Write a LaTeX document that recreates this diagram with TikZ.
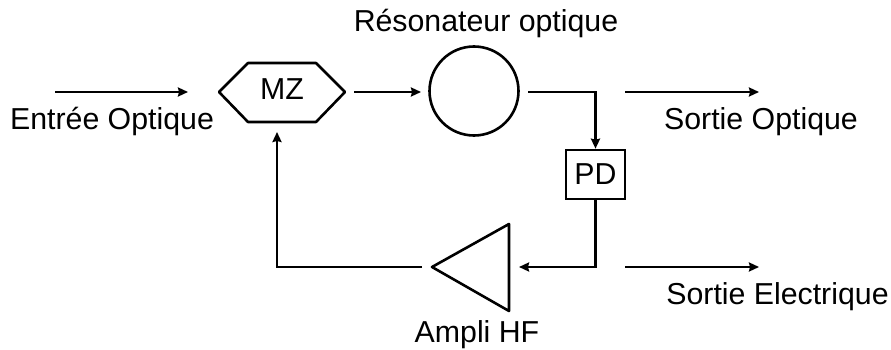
\documentclass[tikz,border=0pt]{standalone}
\usepackage{fontspec}
\setmainfont{Liberation Sans}
\usetikzlibrary{shapes.geometric,arrows.meta,positioning,calc}
\tikzset{
  lbl/.style={font=\fontsize{30.3}{30.3}\selectfont,inner sep=0pt,anchor=base},
  tedge/.style={-{Stealth[length=10pt,width=9pt,inset=1pt]},line width=2.6pt},
  tline/.style={line width=2.6pt,line join=round},
  tblock/.style={draw,line width=2.6pt,inner sep=0pt},
}
\begin{document}
\begin{tikzpicture}[x=1pt,y=-1pt]
  \useasboundingbox (0,0) rectangle (891,350);
  % blocks
  \draw[tline] (219,92) -- (248,63) -- (316,63) -- (345,92) -- (316,122) -- (248,122) -- cycle;
  \node[lbl,anchor=center] (MZ) at (282,89) {MZ};
  \node[tblock,circle,minimum size=89pt] (res) at (474,91) {};
  \node[tblock,rectangle,minimum width=59pt,minimum height=49pt,font=\fontsize{30.3}{30.3}\selectfont] (PD) at (595.5,174.5) {PD};
  \draw[tline] (509,224) -- (432,267) -- (509,311) -- cycle;
  % free ends
  \coordinate (inA) at (55,92);
  \coordinate (inB) at (188,92);
  \coordinate (mzOut) at (354,92);
  \coordinate (resIn) at (421,92);
  \coordinate (resOut) at (528,92);
  \coordinate (pdTop) at (PD.north |- resOut);
  \coordinate (pdBot) at (PD.south |- 0,267);
  \coordinate (ampIn) at (519,267);
  \coordinate (ampOut) at (422,267);
  \coordinate (fbk) at (277,267);
  \coordinate (mzIn) at (277,132);
  \coordinate (optA) at (625,92);
  \coordinate (optB) at (759,92);
  \coordinate (elecA) at (625,267);
  \coordinate (elecB) at (759,267);
  % connectors
  \draw[tedge] (inA) -- (inB);
  \draw[tedge] (mzOut) -- (resIn);
  \draw[tedge] (resOut) -- (pdTop) -- (PD.north);
  \draw[tedge] (PD.south) -- (pdBot) -- (ampIn);
  \draw[tedge] (ampOut) -- (fbk) -- (mzIn);
  \draw[tedge] (optA) -- (optB);
  \draw[tedge] (elecA) -- (elecB);
  % labels
  \node[lbl] (entree) at (112,129) {Entrée Optique};
  \node[lbl] (reso) at (486,32) {Résonateur optique};
  \node[lbl] (sopt) at (761,130) {Sortie Optique};
  \node[lbl] (selec) at (777.5,304) {Sortie Electrique};
  \node[lbl] (ampli) at (477,342) {Ampli HF};
\end{tikzpicture}
\end{document}
